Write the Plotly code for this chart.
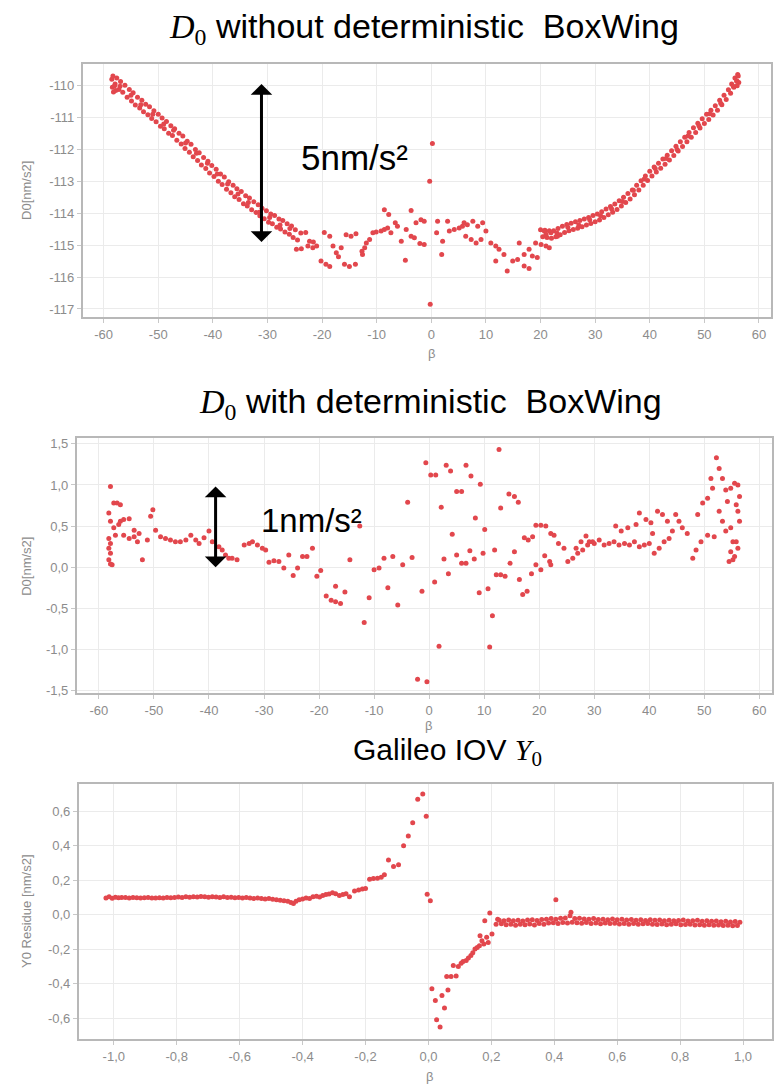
import plotly.graph_objects as go

# ---------------- Panel 1: D0 without deterministic BoxWing ----------------
left_beta = [
    -58.5, -58.4, -58.2, -57.9, -57.8,
    -58.3, -57.6, -56.9, -56.1, -55.3, -54.6, -53.8, -53.0, -52.3, -51.6,
    -50.8, -50.0, -49.3, -48.5, -47.7, -47.0, -46.2, -45.5, -44.7, -44.0,
    -43.2, -42.5, -41.7, -40.9, -40.2, -39.4, -38.6, -37.9, -37.1, -36.3,
    -35.6, -34.8, -34.0, -33.3, -32.5, -31.7, -31.0, -30.2, -29.4, -28.7,
    -27.9, -27.2, -26.4, -25.6, -24.9,
    -58.0, -57.2, -56.5, -55.7, -54.9, -54.2, -53.4, -52.7, -51.9, -51.2,
    -50.4, -49.6, -48.9, -48.1, -47.4, -46.6, -45.8, -45.1, -44.3, -43.6,
    -42.8, -42.1, -41.3, -40.6, -39.8, -39.0, -38.3, -37.5, -36.7, -36.0,
    -35.2, -34.4, -33.7, -32.9, -32.1, -31.4, -30.6, -29.8, -29.1, -28.3,
    -27.6, -26.8, -26.0, -25.3, -24.5,
    -57.0, -55.0, -53.2, -51.0, -49.0, -47.2, -45.0, -43.0, -41.0, -39.2,
    -37.3, -35.4, -33.5, -31.5, -29.6, -27.7, -25.9,
]
left_d0 = [
    -109.8, -110.05, -110.2, -109.95, -110.15,
    -109.7, -109.76, -109.87, -109.99, -110.12, -110.22, -110.36, -110.46, -110.58, -110.66,
    -110.79, -110.9, -111.01, -111.12, -111.26, -111.35, -111.49, -111.58, -111.74, -111.84,
    -112.0, -112.1, -112.25, -112.37, -112.5, -112.62, -112.77, -112.86, -113.01, -113.12,
    -113.23, -113.32, -113.45, -113.52, -113.64, -113.73, -113.84, -113.92, -114.02, -114.07,
    -114.18, -114.23, -114.33, -114.4, -114.52,
    -110.0, -110.12, -110.21, -110.36, -110.48, -110.61, -110.7, -110.82, -110.91, -111.03,
    -111.13, -111.27, -111.35, -111.49, -111.56, -111.71, -111.83, -111.97, -112.09, -112.23,
    -112.35, -112.49, -112.6, -112.74, -112.85, -113.0, -113.1, -113.25, -113.36, -113.48,
    -113.57, -113.7, -113.77, -113.89, -113.98, -114.08, -114.17, -114.28, -114.33, -114.44,
    -114.49, -114.59, -114.66, -114.76, -114.84,
    -110.02, -110.3, -110.6, -110.9, -111.2, -111.4, -111.8, -112.12, -112.43, -112.77,
    -113.08, -113.4, -113.66, -113.97, -114.13, -114.37, -114.48,
]

mid_beta = [
    -23.9, -23.0, -22.3, -21.6, -24.7, -23.8, -22.6, -21.7, -21.0,
    -20.2, -19.3, -18.6, -19.6, -18.6, -18.0, -17.4, -16.5, -17.0,
    -15.9, -15.0, -13.9, -15.6, -14.7, -13.8,
    -12.6, -12.7, -12.2, -11.9, -11.3,
    -10.7, -10.1, -9.2, -8.6, -8.0, -8.6, -7.8,
    -7.4, -6.6, -6.2, -5.5, -4.75, -4.6, -3.7, -3.1, -3.7,
    -2.8, -1.9, -1.3, -2.1, -1.3, -0.2, 0.2, -0.3,
    1.15, 2.98, 0.97, 2.07, 1.9,
    3.3, 4.2, 5.1, 5.7, 6.6, 6.0, 6.3, 7.3, 7.6, 8.5, 9.4, 10.0,
    8.2, 9.1, 10.9, 11.8, 12.4, 13.3,
    11.8, 13.9, 14.9, 15.8, 16.1,
    17.0, 17.9, 17.0, 17.9, 18.5, 19.4,
    19.1, 20.1, 21.0, 21.6, 20.7, 21.9, 23.1,
]
mid_d0 = [
    -114.62, -114.6, -114.88, -114.9, -115.13, -115.11, -115.03, -115.08, -115.03,
    -115.5, -115.6, -115.67, -114.6, -114.72, -115.03, -115.24, -115.08, -115.36,
    -115.6, -115.67, -115.6, -114.67, -114.72, -114.64,
    -115.29, -115.19, -115.08, -114.93, -114.82,
    -114.61, -114.59, -114.56, -114.51, -114.46, -113.89, -114.04,
    -114.61, -114.3, -114.41, -114.88, -115.47, -114.51, -114.72, -114.77, -113.91,
    -114.3, -114.2, -114.25, -114.95, -114.98, -116.85, -111.81, -113.0,
    -114.25, -114.25, -114.61, -114.88, -115.29,
    -114.56, -114.51, -114.46, -114.41, -114.36, -114.3, -114.72, -114.82, -114.25, -114.41, -114.3, -114.56,
    -114.93, -114.82, -114.93, -115.03, -115.13, -115.29,
    -115.5, -115.81, -115.5, -115.45, -114.93,
    -115.65, -115.73, -115.29, -115.13, -115.34, -115.39,
    -114.93, -114.98, -115.03, -115.08, -114.56, -114.61, -114.72,
]

right_beta = [
    20.0, 20.8, 21.6, 22.4, 23.2, 24.0, 24.8, 25.6, 26.4, 27.2,
    28.0, 28.8, 29.6, 30.4, 31.2, 32.0, 32.8, 33.6, 34.4, 35.2,
    36.0, 36.8, 37.6, 38.4, 39.2, 40.0, 40.8, 41.6, 42.4, 43.2,
    44.0, 44.8, 45.6, 46.4, 47.2, 48.0, 48.8, 49.6, 50.4, 51.2,
    52.0, 52.8, 53.6, 54.4, 55.0, 55.6, 56.1,
    20.4, 21.2, 22.0, 22.8, 23.6, 24.4, 25.2, 26.0, 26.8, 27.6,
    28.4, 29.2, 30.0, 30.8, 31.6, 32.4, 33.2, 34.0, 34.8, 35.6,
    36.4, 37.2, 38.0, 38.8, 39.6, 40.4, 41.2, 42.0, 42.8, 43.6,
    44.4, 45.2, 46.0, 46.8, 47.6, 48.4, 49.2, 50.0, 50.8, 51.6,
    52.4, 53.2, 54.0, 54.8, 55.4, 56.0,
    56.2, 55.9, 56.3, 56.0,
    21.0, 23.0, 25.0, 27.0, 29.0, 31.0, 33.0, 35.0, 37.0, 39.0,
    41.0, 43.0, 45.0, 47.0, 49.0, 51.0, 53.0, 55.3,
]
right_d0 = [
    -114.52, -114.53, -114.55, -114.55, -114.48, -114.41, -114.35, -114.31, -114.27, -114.23,
    -114.18, -114.13, -114.07, -114.02, -113.95, -113.87, -113.79, -113.71, -113.61, -113.5,
    -113.38, -113.27, -113.12, -112.98, -112.83, -112.68, -112.55, -112.43, -112.3, -112.18,
    -112.04, -111.9, -111.76, -111.62, -111.47, -111.32, -111.18, -111.04, -110.9, -110.77,
    -110.63, -110.46, -110.3, -110.13, -109.95, -109.76, -109.65,
    -114.74, -114.76, -114.78, -114.74, -114.67, -114.6, -114.55, -114.51, -114.47, -114.42,
    -114.37, -114.32, -114.27, -114.21, -114.13, -114.05, -113.97, -113.88, -113.77, -113.66,
    -113.55, -113.42, -113.27, -113.12, -112.97, -112.83, -112.71, -112.59, -112.46, -112.33,
    -112.19, -112.05, -111.91, -111.76, -111.62, -111.47, -111.33, -111.19, -111.06, -110.92,
    -110.77, -110.6, -110.43, -110.24, -110.05, -109.86,
    -109.7, -109.85, -109.9, -110.0,
    -114.66, -114.62, -114.44, -114.37, -114.2, -114.08, -113.86, -113.63, -113.28, -112.93,
    -112.6, -112.28, -112.0, -111.58, -111.26, -110.88, -110.55, -110.02,
]

# ---------------- Panel 2: D0 with deterministic BoxWing ----------------
bw_beta = [
    -57.9, -58.2, -57.9, -58.2, -57.9, -58.2, -57.9, -58.2, -57.6, -57.9,
    -57.3, -56.7, -56.1, -57.3, -57.0, -56.4, -56.1, -55.5, -54.5,
    -55.5, -54.5, -53.6, -53.0, -52.1, -53.6, -52.7, -51.2, -50.6, -50.2,
    -49.7, -48.8, -47.9, -47.0, -46.1, -45.2, -44.2, -43.3, -42.4, -41.8, -40.9, -40.0, -39.4,
    -38.2, -37.6, -37.0, -36.4, -35.8, -34.9,
    -33.6, -32.7, -32.1, -31.2, -30.3, -29.7,
    -29.1, -28.2, -27.3, -26.4, -25.5, -24.7,
    -23.9, -23.0, -22.2, -21.2, -20.4, -19.7,
    -18.7, -17.8, -17.0, -16.1, -17.0, -15.3,
    -14.4, -12.6, -11.8, -10.9, -10.0, -9.1,
    -8.2, -6.6, -7.5, -5.7,
    -4.8, -3.1, -3.9, -2.1, -0.4, -1.3, -0.6,
    0.3, 1.2, 1.0, 1.8, 2.2, 2.7, 3.5, 3.1, 3.9, 4.2, 5.0, 5.9,
    5.0, 5.9, 6.7, 7.4, 8.2, 9.1,
    6.7, 7.6, 8.4, 9.3, 9.8, 10.1, 10.7, 11.0, 11.5, 11.9,
    12.2, 13.0, 13.8, 12.7, 13.0,
    14.5, 15.5, 16.2, 14.7, 15.5,
    16.4, 17.0, 17.8, 18.6, 19.4, 20.3, 21.0, 21.9,
    17.3, 18.0, 18.8, 19.4, 20.3, 21.2, 22.1, 22.7, 23.5,
    22.1, 24.5,
    25.2, 26.1, 27.0, 27.9, 28.8, 29.7,
    26.7, 27.6, 28.5, 29.1, 30.0, 30.9, 31.8, 32.7, 33.6, 34.5, 35.5, 36.4, 37.3, 38.2, 39.1, 40.0,
    33.9, 34.9, 36.1, 37.6, 38.2, 39.4, 40.3,
    40.6, 40.9, 41.8, 42.7, 43.6, 44.2, 41.5, 42.4, 43.3,
    44.8, 45.4, 46.0, 46.9,
    47.9, 48.5, 49.4, 50.6, 51.8,
    48.8, 49.7, 50.6, 51.2, 51.5,
    52.2, 52.7, 53.3, 53.9,
    52.7, 53.3, 53.9, 54.8, 55.2,
    54.2, 54.8, 55.5, 56.1, 56.4, 55.8, 56.4, 56.1,
    54.8, 55.2, 55.5, 55.8, 56.1, 54.5,
]
bw_d0 = [
    0.98, 0.66, 0.56, 0.35, 0.29, 0.23, 0.17, 0.09, 0.03, 0.04,
    0.78, 0.78, 0.76, 0.48, 0.39, 0.52, 0.56, 0.58, 0.59,
    0.39, 0.35, 0.37, 0.31, 0.09, 0.45, 0.41, 0.33, 0.62, 0.70,
    0.45, 0.37, 0.35, 0.33, 0.31, 0.31, 0.33, 0.39, 0.33, 0.29, 0.36, 0.44, 0.31,
    0.25, 0.21, 0.15, 0.11, 0.11, 0.09,
    0.27, 0.29, 0.31, 0.27, 0.23, 0.21,
    0.06, 0.08, 0.07, -0.01, 0.15, -0.10,
    -0.01, 0.13, 0.13, 0.23, -0.11, -0.04,
    -0.35, -0.40, -0.42, -0.44, -0.23, -0.30,
    0.09, 0.50, -0.67, -0.37, -0.03, -0.01,
    0.11, 0.13, -0.25, -0.46,
    0.03, 0.12, 0.79, -1.36, -1.39, -0.29, 1.27,
    1.12, 1.12, -0.18, -0.96, 0.73, 0.10, -0.08, 1.24, 1.17, 0.40, 0.92, 0.92,
    0.15, 0.05, 0.05, 0.20, 0.10, -0.31,
    1.24, 1.11, 0.60, 1.01, 0.17, 0.46, -0.26, -0.97, -0.59, 0.21,
    -0.09, -0.09, -0.11, 1.43, 0.72,
    0.89, 0.86, 0.79, 0.05, 0.19,
    -0.15, -0.33, -0.29, -0.08, 0.03, -0.03, 0.14, 0.07,
    0.36, 0.33, 0.37, 0.51, 0.51, 0.50, 0.41, 0.39, 0.29,
    0.03, 0.23,
    0.07, 0.11, 0.17, 0.21, 0.27, 0.31,
    0.23, 0.31, 0.38, 0.31, 0.29, 0.33, 0.27, 0.29, 0.31, 0.27, 0.29, 0.27, 0.31, 0.25, 0.27, 0.29,
    0.50, 0.44, 0.48, 0.52, 0.66, 0.58, 0.54,
    0.41, 0.17, 0.23, 0.31, 0.35, 0.44, 0.68, 0.64, 0.56,
    0.64, 0.56, 0.48, 0.41,
    0.11, 0.21, 0.31, 0.39, 0.37,
    0.64, 0.78, 0.84, 1.08, 0.96,
    1.33, 1.20, 1.08, 0.94,
    0.68, 0.56, 0.44, 0.48, 0.31,
    0.80, 0.96, 1.02, 1.00, 0.86, 0.76, 0.56, 0.68,
    0.19, 0.09, 0.13, 0.31, 0.23, 0.07,
]

# ---------------- Panel 3: Galileo IOV Y0 residue ----------------
y0_left_beta = [
    -1.025, -1.015, -1.005, -0.995, -0.985, -0.975, -0.963, -0.951, -0.939, -0.927,
    -0.915, -0.903, -0.891, -0.879, -0.867, -0.855, -0.843, -0.831, -0.819, -0.807,
    -0.795, -0.783, -0.771, -0.759, -0.747, -0.735, -0.723, -0.711, -0.699, -0.687,
    -0.675, -0.663, -0.651, -0.639, -0.627, -0.615, -0.603, -0.591, -0.579, -0.567,
    -0.555, -0.543, -0.531, -0.519, -0.507, -0.495, -0.483, -0.471, -0.459, -0.447,
    -0.437, -0.429, -0.421, -0.411, -0.400, -0.389, -0.378, -0.367, -0.356, -0.346,
    -0.336, -0.326, -0.316,
]
y0_left_res = [
    0.098, 0.104, 0.096, 0.102, 0.099, 0.101, 0.100, 0.098, 0.101, 0.099,
    0.097, 0.099, 0.100, 0.098, 0.097, 0.099, 0.098, 0.100, 0.099, 0.101,
    0.103, 0.101, 0.104, 0.102, 0.105, 0.103, 0.106, 0.104, 0.102, 0.105,
    0.103, 0.101, 0.104, 0.100, 0.102, 0.099, 0.101, 0.098, 0.100, 0.097,
    0.095, 0.097, 0.094, 0.092, 0.094, 0.090, 0.088, 0.085, 0.082, 0.078,
    0.072, 0.066, 0.078, 0.088, 0.092, 0.097, 0.095, 0.105, 0.108, 0.103,
    0.112, 0.118, 0.121,
]
y0_mid_beta = [
    -0.305, -0.295, -0.283, -0.272, -0.262, -0.251, -0.235, -0.222, -0.210, -0.200,
    -0.187, -0.175, -0.162, -0.150, -0.140, -0.127, -0.111, -0.095, -0.079, -0.064,
    -0.050, -0.034, -0.018, -0.007, -0.004, 0.006,
    0.011, 0.022, 0.026, 0.037, 0.043, 0.051, 0.062,
    0.058, 0.072, 0.088, 0.079, 0.104, 0.120, 0.135, 0.148, 0.162, 0.164, 0.176,
    0.190, 0.179, 0.195, 0.202, 0.215, 0.220,
    0.095, 0.110, 0.127, 0.141, 0.155, 0.170, 0.185,
    0.405, 0.453,
]
y0_mid_res = [
    0.128, 0.122, 0.112, 0.118, 0.122, 0.104, 0.138, 0.144, 0.150, 0.152,
    0.206, 0.210, 0.212, 0.218, 0.232, 0.317, 0.280, 0.290, 0.400, 0.456,
    0.533, 0.670, 0.700, 0.571, 0.119, 0.081,
    -0.429, -0.496, -0.608, -0.650, -0.467, -0.540, -0.435,
    -0.358, -0.358, -0.355, -0.294, -0.280, -0.265, -0.236, -0.198, -0.179, -0.121, -0.169,
    -0.160, -0.035, 0.010, -0.111, -0.054, -0.025,
    -0.300, -0.270, -0.250, -0.220, -0.190, -0.150, -0.130,
    0.087, 0.015,
]
y0_right_beta = [
    0.225, 0.240, 0.255, 0.270, 0.285, 0.300, 0.315, 0.330, 0.345, 0.360,
    0.375, 0.390, 0.405, 0.420, 0.435, 0.450, 0.465, 0.480, 0.495, 0.510,
    0.525, 0.540, 0.555, 0.570, 0.585, 0.600, 0.615, 0.630, 0.645, 0.660,
    0.675, 0.690, 0.705, 0.720, 0.735, 0.750, 0.765, 0.780, 0.795, 0.810,
    0.825, 0.840, 0.855, 0.870, 0.885, 0.900, 0.915, 0.930, 0.945, 0.960,
    0.975, 0.990,
    0.232, 0.247, 0.262, 0.277, 0.292, 0.307, 0.322, 0.337, 0.352, 0.367,
    0.382, 0.397, 0.412, 0.427, 0.442, 0.457, 0.472, 0.487, 0.502, 0.517,
    0.532, 0.547, 0.562, 0.577, 0.592, 0.607, 0.622, 0.637, 0.652, 0.667,
    0.682, 0.697, 0.712, 0.727, 0.742, 0.757, 0.772, 0.787, 0.802, 0.817,
    0.832, 0.847, 0.862, 0.877, 0.892, 0.907, 0.922, 0.937, 0.952, 0.967,
    0.982,
]
y0_right_res = [
    -0.032, -0.035, -0.030, -0.034, -0.031, -0.036, -0.030, -0.028, -0.033, -0.027,
    -0.025, -0.022, -0.026, -0.020, -0.018, -0.005, -0.022, -0.020, -0.024, -0.026,
    -0.022, -0.027, -0.025, -0.029, -0.024, -0.028, -0.026, -0.030, -0.027, -0.031,
    -0.029, -0.033, -0.028, -0.032, -0.030, -0.034, -0.031, -0.035, -0.033, -0.030,
    -0.036, -0.034, -0.032, -0.037, -0.035, -0.038, -0.036, -0.040, -0.038, -0.041,
    -0.039, -0.043,
    -0.052, -0.058, -0.055, -0.060, -0.054, -0.057, -0.053, -0.059, -0.050, -0.054,
    -0.048, -0.046, -0.050, -0.044, -0.047, -0.043, -0.046, -0.049, -0.045, -0.050,
    -0.047, -0.052, -0.048, -0.051, -0.049, -0.053, -0.050, -0.054, -0.051, -0.055,
    -0.052, -0.050, -0.054, -0.056, -0.053, -0.057, -0.055, -0.052, -0.058, -0.056,
    -0.054, -0.059, -0.057, -0.060, -0.058, -0.061, -0.059, -0.062, -0.060, -0.064,
    -0.062,
]

# tick labels (hyphen minus, decimal comma)
beta_ticks = [-60, -50, -40, -30, -20, -10, 0, 10, 20, 30, 40, 50, 60]
beta_ticktext = ["-60", "-50", "-40", "-30", "-20", "-10", "0", "10", "20", "30", "40", "50", "60"]
d0_wo_ticks = [-117, -116, -115, -114, -113, -112, -111, -110]
d0_wo_ticktext = ["-117", "-116", "-115", "-114", "-113", "-112", "-111", "-110"]
d0_w_ticks = [-1.5, -1.0, -0.5, 0.0, 0.5, 1.0, 1.5]
d0_w_ticktext = ["-1,5", "-1,0", "-0,5", "0,0", "0,5", "1,0", "1,5"]
y0_beta_ticks = [-1.0, -0.8, -0.6, -0.4, -0.2, 0.0, 0.2, 0.4, 0.6, 0.8, 1.0]
y0_beta_ticktext = ["-1,0", "-0,8", "-0,6", "-0,4", "-0,2", "0,0", "0,2", "0,4", "0,6", "0,8", "1,0"]
y0_ticks = [-0.6, -0.4, -0.2, 0.0, 0.2, 0.4, 0.6]
y0_ticktext = ["-0,6", "-0,4", "-0,2", "0,0", "0,2", "0,4", "0,6"]

for a, b in [(left_beta, left_d0), (mid_beta, mid_d0), (right_beta, right_d0),
             (bw_beta, bw_d0), (y0_left_beta, y0_left_res), (y0_mid_beta, y0_mid_res),
             (y0_right_beta, y0_right_res)]:
    assert len(a) == len(b), (len(a), len(b))

DOT = dict(size=5, color="#e2474d", line=dict(width=0))
TICKFONT = dict(family="Liberation Sans, Arial, sans-serif", size=13, color="#8c8c8c")
AXIS_LABEL = dict(family="Liberation Sans, Arial, sans-serif", size=13, color="#8c8c8c")
TITLE_FONT = "Liberation Sans, Arial, sans-serif"

fig = go.Figure()
fig.add_trace(go.Scatter(x=left_beta + mid_beta + right_beta, y=left_d0 + mid_d0 + right_d0,
                         mode="markers", marker=DOT, xaxis="x", yaxis="y"))
fig.add_trace(go.Scatter(x=bw_beta, y=bw_d0, mode="markers", marker=DOT, xaxis="x2", yaxis="y2"))
fig.add_trace(go.Scatter(x=y0_left_beta + y0_mid_beta + y0_right_beta,
                         y=y0_left_res + y0_mid_res + y0_right_res,
                         mode="markers", marker=DOT, xaxis="x3", yaxis="y3"))


def axis(domain, rng, vals, text, anchor):
    return dict(domain=domain, range=rng, tickvals=vals, ticktext=text, anchor=anchor,
                showline=True, mirror=True, linecolor="#b8b8b8", linewidth=2,
                showgrid=True, gridcolor="#ebebeb", gridwidth=1, zeroline=False,
                ticks="outside", ticklen=4, tickcolor="#c8c8c8", tickfont=TICKFONT)


W, H = 774, 1088


def px(x):
    return x / W


def py(y):
    return 1 - y / H


math = "<span style=\"font-family:'Liberation Serif', 'DejaVu Serif', serif\"><i>{}</i><sub>0</sub></span>"
sp = "\u00a0"

annotations = [
    dict(text=math.format("D") + sp + "without" + sp + "deterministic" + sp * 2 + "BoxWing",
         x=px(425), y=py(28), font=dict(family=TITLE_FONT, size=34, color="black")),
    dict(text=math.format("D") + sp + "with" + sp + "deterministic" + sp * 2 + "BoxWing",
         x=px(431), y=py(405), font=dict(family=TITLE_FONT, size=34, color="black")),
    dict(text="Galileo" + sp + "IOV" + sp + math.format("Y"),
         x=px(448), y=py(755), font=dict(family=TITLE_FONT, size=30, color="black")),
    dict(text="D0[nm/s2]", x=px(27), y=py(190), textangle=-90, font=AXIS_LABEL),
    dict(text="D0[nm/s2]", x=px(27), y=py(568), textangle=-90, font=AXIS_LABEL),
    dict(text="Y0 Residue [nm/s2]", x=px(27), y=py(915), textangle=-90, font=AXIS_LABEL),
    dict(text="β", x=px(432), y=py(354), font=AXIS_LABEL),
    dict(text="β", x=px(429), y=py(729), font=AXIS_LABEL),
    dict(text="β", x=px(430), y=py(1081), font=AXIS_LABEL),
    dict(text="5nm/s²", x=px(355), y=py(157), font=dict(family=TITLE_FONT, size=35, color="black")),
    dict(text="1nm/s²", x=px(312), y=py(522), font=dict(family=TITLE_FONT, size=33, color="black")),
]
for a in annotations:
    a.update(xref="paper", yref="paper", showarrow=False, xanchor="center", yanchor="middle")

# double-headed scale arrows
annotations += [
    dict(x=-31.1, y=-114.9, ax=-31.1, ay=-109.9, xref="x", yref="y", axref="x", ayref="y",
         text="", showarrow=True, arrowside="end+start", arrowhead=1, startarrowhead=1,
         arrowsize=1.2, startarrowsize=1.2, arrowwidth=3, arrowcolor="black", standoff=0, startstandoff=0),
    dict(x=-38.8, y=0.0, ax=-38.8, ay=1.0, xref="x2", yref="y2", axref="x2", ayref="y2",
         text="", showarrow=True, arrowside="end+start", arrowhead=1, startarrowhead=1,
         arrowsize=1.2, startarrowsize=1.2, arrowwidth=3, arrowcolor="black", standoff=0, startstandoff=0),
]

fig.update_layout(
    width=W, height=H, margin=dict(l=0, r=0, t=0, b=0),
    paper_bgcolor="white", plot_bgcolor="white", showlegend=False,
    xaxis=axis([px(83), px(772)], [-63.8, 62.2], beta_ticks, beta_ticktext, "y"),
    yaxis=axis([py(318), py(63)], [-117.26, -109.31], d0_wo_ticks, d0_wo_ticktext, "x"),
    xaxis2=axis([px(77), px(773)], [-64.0, 62.3], beta_ticks, beta_ticktext, "y2"),
    yaxis2=axis([py(696), py(439)], [-1.53, 1.576], d0_w_ticks, d0_w_ticktext, "x2"),
    xaxis3=axis([px(79), px(773)], [-1.111, 1.092], y0_beta_ticks, y0_beta_ticktext, "y3"),
    yaxis3=axis([py(1044), py(787)], [-0.721, 0.76], y0_ticks, y0_ticktext, "x3"),
    annotations=annotations,
)

fig.write_html("out.html")
